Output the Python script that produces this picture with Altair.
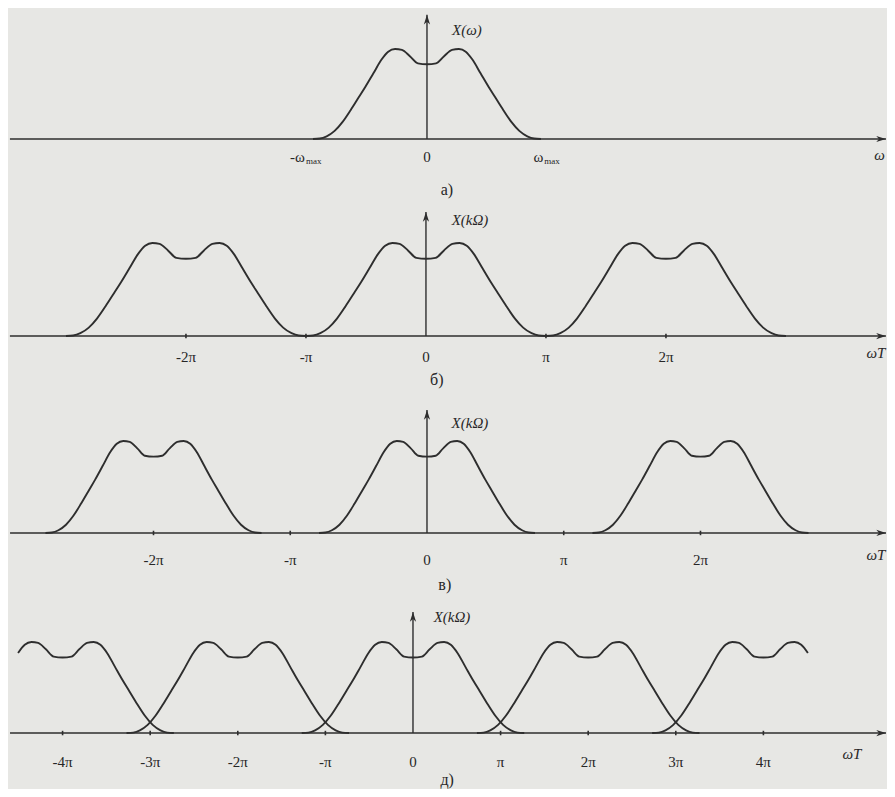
import altair as alt
import pandas as pd

# ---- pulse shape: offset from centre (fraction of half-width) and relative height
shape_d = [-1.00, -0.94, -0.88, -0.81, -0.74, -0.67, -0.60, -0.54, -0.47, -0.40, -0.34, -0.28, -0.22, -0.15, -0.08,
           0.00, 0.08, 0.15, 0.22, 0.28, 0.34, 0.40, 0.47, 0.54, 0.60, 0.67, 0.74, 0.81, 0.88, 0.94, 1.00]
shape_h = [0.00, 0.005, 0.03, 0.09, 0.19, 0.32, 0.46, 0.58, 0.73, 0.88, 0.97, 1.00, 0.99, 0.92, 0.84,
           0.83, 0.84, 0.92, 0.99, 1.00, 0.97, 0.88, 0.73, 0.58, 0.46, 0.32, 0.19, 0.09, 0.03, 0.005, 0.00]

# ---- panel a) : continuous spectrum, x in units of omega_max
a_centers = [0]
a_halfwidth = 1.0
a_keep_min = [-1.0]
a_keep_max = [1.0]
a_tick_pos = []
a_label_pos = [0]
a_label_txt = ["0"]
a_split_pos = [-1.07, 1.02]          # where the main symbol ends and its subscript begins
a_main_txt = ["-ω", "ω"]
a_sub_txt = ["max", "max"]

# ---- panel б) : x in units of pi
b_centers = [-2, 0, 2]
b_halfwidth = 1.0
b_keep_min = [-1.0, -1.0, -1.0]
b_keep_max = [1.0, 1.0, 1.0]
b_tick_pos = [-2, -1, 1, 2]
b_label_pos = [-2, -1, 0, 1, 2]
b_label_txt = ["-2π", "-π", "0", "π", "2π"]

# ---- panel в)
c_centers = [-2, 0, 2]
c_halfwidth = 0.79
c_keep_min = [-1.0, -1.0, -1.0]
c_keep_max = [1.0, 1.0, 1.0]
c_tick_pos = [-2, -1, 1, 2]
c_label_pos = [-2, -1, 0, 1, 2]
c_label_txt = ["-2π", "-π", "0", "π", "2π"]

# ---- panel д) : overlapping replicas
d_centers = [-4, -2, 0, 2, 4]
d_halfwidth = 1.27
d_keep_min = [-0.40, -1.0, -1.0, -1.0, -1.0]
d_keep_max = [1.0, 1.0, 1.0, 1.0, 0.40]
d_tick_pos = [-4, -3, -2, -1, 1, 2, 3, 4]
d_label_pos = [-4, -3, -2, -1, 0, 1, 2, 3, 4]
d_label_txt = ["-4π", "-3π", "-2π", "-π", "0", "π", "2π", "3π", "4π"]

INK = "#2e2e2e"
TXT = "#262626"
FONT = "Liberation Serif"
W = 879

ARROW_RIGHT = "M0,0L-1,-0.32L-0.72,0L-1,0.32Z"
ARROW_UP = "M0,0L-0.32,1L0,0.72L0.32,1Z"
TICK = "M0,-1L0,1"


def pulses(centers, hw, kmin, kmax):
    rows = []
    for i, c in enumerate(centers):
        for d, h in zip(shape_d, shape_h):
            if kmin[i] - 1e-9 <= d <= kmax[i] + 1e-9:
                rows.append({"pulse": i, "x": c + d * hw, "y": h})
    return pd.DataFrame(rows)


def panel(height, xdom, ydom, centers, hw, kmin, kmax, tick_pos, label_pos, label_txt,
          label_y, axis_x, ytop, ylab, ylab_xy, xtitle, xtitle_xy, caption, caption_xy,
          split_pos=None, main_txt=None, sub_txt=None):
    xs = alt.Scale(domain=xdom, nice=False, zero=False)
    ys = alt.Scale(domain=ydom, nice=False, zero=False)
    X = lambda f: alt.X(f, type="quantitative", scale=xs, axis=None)
    Y = lambda f: alt.Y(f, type="quantitative", scale=ys, axis=None)

    base_df = pd.DataFrame({"x": [axis_x[0]], "x2": [axis_x[1]], "y": [0.0]})
    baseline = alt.Chart(base_df).mark_rule(color=INK, strokeWidth=1.4).encode(
        x=X("x"), x2="x2", y=Y("y"))
    yax_df = pd.DataFrame({"x": [0.0], "y": [0.0], "y2": [ytop]})
    yaxis = alt.Chart(yax_df).mark_rule(color=INK, strokeWidth=1.4).encode(
        x=X("x"), y=Y("y"), y2="y2")
    arr_r = alt.Chart(pd.DataFrame({"x": [axis_x[1]], "y": [0.0]})).mark_point(
        shape=ARROW_RIGHT, filled=True, color=INK, size=380, opacity=1).encode(x=X("x"), y=Y("y"))
    arr_u = alt.Chart(pd.DataFrame({"x": [0.0], "y": [ytop]})).mark_point(
        shape=ARROW_UP, filled=True, color=INK, size=380, opacity=1).encode(x=X("x"), y=Y("y"))

    layers = [baseline, yaxis, arr_r, arr_u]

    if tick_pos:
        tdf = pd.DataFrame({"x": tick_pos, "y": [0.0] * len(tick_pos)})
        layers.append(alt.Chart(tdf).mark_point(
            shape=TICK, filled=False, color=INK, size=20, strokeWidth=1.6, opacity=1).encode(
            x=X("x"), y=Y("y")))

    ldf = pd.DataFrame({"x": label_pos, "y": [label_y] * len(label_pos), "t": label_txt})
    layers.append(alt.Chart(ldf).mark_text(font=FONT, fontSize=15, color=TXT, baseline="middle").encode(
        x=X("x"), y=Y("y"), text="t:N"))

    if split_pos:
        mdf = pd.DataFrame({"x": split_pos, "y": [label_y] * len(split_pos), "t": main_txt})
        layers.append(alt.Chart(mdf).mark_text(font=FONT, fontSize=15, color=TXT, baseline="middle",
                                               align="right").encode(x=X("x"), y=Y("y"), text="t:N"))
        sdf = pd.DataFrame({"x": split_pos, "y": [label_y] * len(split_pos), "t": sub_txt})
        layers.append(alt.Chart(sdf).mark_text(font=FONT, fontSize=9, color=TXT, baseline="middle",
                                               align="left", dx=1, dy=4).encode(
            x=X("x"), y=Y("y"), text="t:N"))

    pdf = pulses(centers, hw, kmin, kmax)
    layers.append(alt.Chart(pdf).mark_line(color=INK, strokeWidth=1.9, interpolate="monotone").encode(
        x=X("x"), y=Y("y"), detail="pulse:N"))

    it = pd.DataFrame({
        "x": [ylab_xy[0], xtitle_xy[0]],
        "y": [ylab_xy[1], xtitle_xy[1]],
        "t": [ylab, xtitle],
    })
    layers.append(alt.Chart(it).mark_text(font=FONT, fontSize=15, fontStyle="italic", color=TXT,
                                          baseline="middle").encode(x=X("x"), y=Y("y"), text="t:N"))
    cap = pd.DataFrame({"x": [caption_xy[0]], "y": [caption_xy[1]], "t": [caption]})
    layers.append(alt.Chart(cap).mark_text(font=FONT, fontSize=16, color=TXT,
                                           baseline="middle").encode(x=X("x"), y=Y("y"), text="t:N"))

    return alt.layer(*layers).properties(width=W, height=height)


pa = panel(192, [-3.675, 4.035], [-0.678, 1.456], a_centers, a_halfwidth, a_keep_min, a_keep_max,
           a_tick_pos, a_label_pos, a_label_txt, -0.20, [-3.658, 4.026], 1.38,
           "X(ω)", (0.35, 1.21), "ω", (3.97, -0.18), "а)", (0.175, -0.567),
           split_pos=a_split_pos, main_txt=a_main_txt, sub_txt=a_sub_txt)

pb = panel(195, [-3.483, 3.842], [-0.634, 1.462], b_centers, b_halfwidth, b_keep_min, b_keep_max,
           b_tick_pos, b_label_pos, b_label_txt, -0.226, [-3.467, 3.833], 1.333,
           "X(kΩ)", (0.367, 1.247), "ωT", (3.75, -0.18), "б)", (0.09, -0.473))

pc = panel(202, [-3.064, 3.364], [-0.696, 1.50], c_centers, c_halfwidth, c_keep_min, c_keep_max,
           c_tick_pos, c_label_pos, c_label_txt, -0.29, [-3.049, 3.357], 1.337,
           "X(kΩ)", (0.314, 1.196), "ωT", (3.283, -0.24), "в)", (0.13, -0.565))

pd_ = panel(192, [-4.623, 5.411], [-0.615, 1.495], d_centers, d_halfwidth, d_keep_min, d_keep_max,
            d_tick_pos, d_label_pos, d_label_txt, -0.32, [-4.60, 5.40], 1.33,
            "X(kΩ)", (0.445, 1.275), "ωT", (5.01, -0.23), "д)", (0.39, -0.516))

chart = alt.vconcat(pa, pb, pc, pd_, spacing=0).properties(
    padding=0, background="#e7e7e4"
).configure_view(stroke=None).configure_concat(spacing=0)

chart.save("out.html", embed_options={"renderer": "svg", "actions": False})
